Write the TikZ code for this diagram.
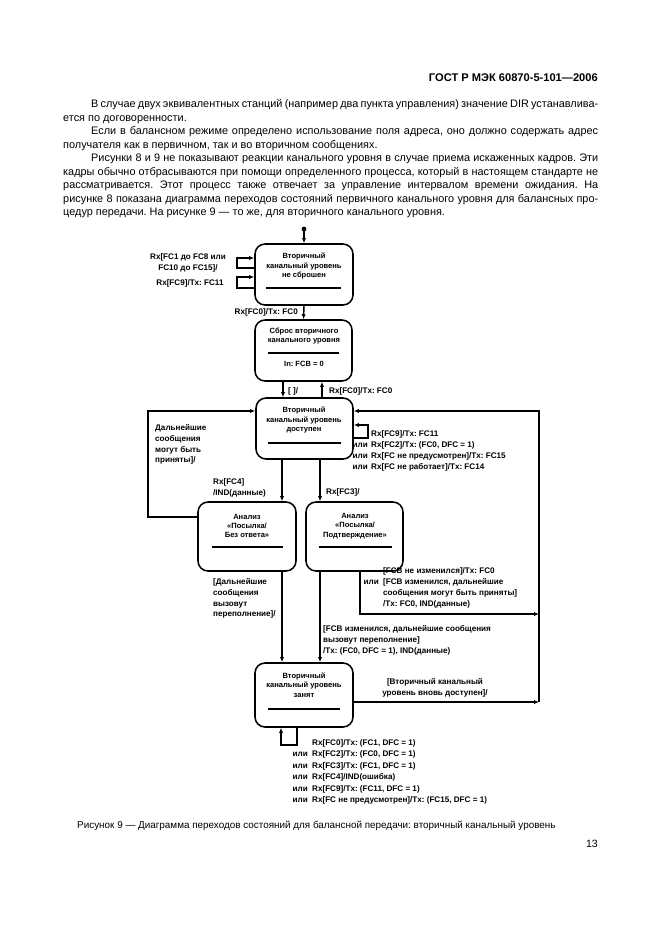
\documentclass[tikz,border=0pt]{standalone}
\usepackage{fontspec}
\setmainfont{Liberation Sans}
\usetikzlibrary{arrows.meta,fit}
\newcommand\jl[2]{\makebox[#1][s]{#2}}
\frenchspacing
\begin{document}
\begin{tikzpicture}[x=0.9pt,y=-0.9pt,
  state/.style={draw,line width=1.4pt,rounded corners=9pt,inner sep=0pt},
  arr/.style={line width=1.3pt,-{Latex[length=4.5pt,width=3.8pt]}},
  ln/.style={line width=1.3pt},
  btxt/.style={font=\fontsize{6.8}{8.4}\selectfont\bfseries,align=center,inner sep=0pt},
  lbl/.style={font=\fontsize{7.3}{9.8}\selectfont\bfseries,inner sep=0pt},
  body/.style={font=\fontsize{9.8}{12}\selectfont,inner sep=0pt,anchor=base west},
]
\useasboundingbox[fill=white] (0,0) rectangle (661,936);

% header and text
\node[font=\fontsize{10}{12}\selectfont\bfseries,anchor=base east,inner sep=0pt] (hdr) at (598,81) {ГОСТ Р МЭК 60870-5-101—2006};
\node[body] (p1) at (91,107.5) {\jl{456.3pt}{В случае двух эквивалентных станций (например два пункта управления) значение DIR устанавлива-}};
\node[body] (p2) at (63,121) {ется по договоренности.};
\node[body] (p3) at (91,134.5) {\jl{456.3pt}{Если в балансном режиме определено использование поля адреса, оно должно содержать адрес}};
\node[body] (p4) at (63,148) {получателя как в первичном, так и во вторичном сообщениях.};
\node[body] (p5) at (91,161.5) {\jl{456.3pt}{Рисунки 8 и 9 не показывают реакции канального уровня в случае приема искаженных кадров. Эти}};
\node[body] (p6) at (63,175) {\jl{481.5pt}{кадры обычно отбрасываются при помощи определенного процесса, который в настоящем стандарте не}};
\node[body] (p7) at (63,188.5) {\jl{481.5pt}{рассматривается. Этот процесс также отвечает за управление интервалом времени ожидания. На}};
\node[body] (p8) at (63,202) {\jl{481.5pt}{рисунке 8 показана диаграмма переходов состояний первичного канального уровня для балансных про-}};
\node[body] (p9) at (63,215.5) {цедур передачи. На рисунке 9 — то же, для вторичного канального уровня.};

% states
\node[state,fit={(255,244)(353,305)}] (b1) {};
\node[btxt] (t1) at (304,266) {Вторичный\\канальный уровень\\не сброшен};
\draw[ln] (266,288) -- (341,288);

\node[state,fit={(255,320)(352,381)}] (b2) {};
\node[btxt] (t2) at (304,336) {Сброс вторичного\\канального уровня};
\draw[ln] (268,353) -- (339,353);
\node[btxt] (t2b) at (304,364) {In: FCB = 0};

\node[state,fit={(256,398)(353,459)}] (b3) {};
\node[btxt] (t3) at (304,420) {Вторичный\\канальный уровень\\доступен};
\draw[ln] (268,443) -- (341,443);

\node[state,fit={(198,502)(296,571)}] (b4) {};
\node[btxt] (t4) at (247,526) {Анализ\\«Посылка/\\Без ответа»};
\draw[ln] (212,547) -- (283,547);

\node[state,fit={(306,502)(403,571)}] (b5) {};
\node[btxt] (t5) at (355,526) {Анализ\\«Посылка/\\Подтверждение»};
\draw[ln] (319,547) -- (392,547);

\node[state,fit={(255,663)(353,727)}] (b6) {};
\node[btxt] (t6) at (304,685) {Вторичный\\канальный уровень\\занят};
\draw[ln] (268,709) -- (340,709);

% helper coordinates
\coordinate (st) at (304,229);
\coordinate (xa) at (283,0);
\coordinate (xb) at (322,0);
\coordinate (xc) at (282,0);
\coordinate (xd) at (320,0);
\coordinate (xg) at (360,0);
\coordinate (xe) at (297,0);
\coordinate (xf) at (281,0);
\coordinate (jb) at (539,702);
\coordinate (jm) at (539,614);

% connectors
\fill (st) circle (2.2pt);
\draw[arr] (st) -- (b1.north);
\draw[arr] (b1.west |- 0,268) -- (237,268) |- (b1.west |- 0,258);
\draw[arr] (b1.west |- 0,288) -- (237,288) |- (b1.west |- 0,277);
\node[lbl,align=center] (l1) at (188,263) {Rx[FC1 до FC8 или\\FC10 до FC15]/};
\node[lbl] (l2) at (190,283) {Rx[FC9]/Tx: FC11};

\draw[arr] (b1.south) -- (b2.north);
\node[lbl,anchor=east] (l3) at (298,312) {Rx[FC0]/Tx: FC0};

\draw[arr] (b2.south -| xa) -- (b3.north -| xa);
\draw[arr] (b3.north -| xb) -- (b2.south -| xb);
\node[lbl,anchor=west] (l4) at (288,391) {[ ]/};
\node[lbl,anchor=west] (l5) at (329,391) {Rx[FC0]/Tx: FC0};

\draw[arr] (b4.west |- 0,517) -- (148,517) |- (b3.west |- 0,411);
\node[lbl,anchor=north west,align=left] (l6) at (155,424) {Дальнейшие\\сообщения\\могут быть\\приняты]/};

\draw[arr] (b6.east |- jb) -- (jb);
\draw[arr] (jb) |- (b3.east |- 0,411);
\draw[arr] (b5.south -| xg) |- (jm);

\draw[arr] (b3.east |- 0,438) -- (368,438) |- (b3.east |- 0,425);
\node[lbl,anchor=west] (r1) at (371,434) {Rx[FC9]/Tx: FC11};
\node[lbl,anchor=east] (r2a) at (368,445) {или};
\node[lbl,anchor=west] (r2) at (371,445) {Rx[FC2]/Tx: (FC0, DFC = 1)};
\node[lbl,anchor=east] (r3a) at (368,456) {или};
\node[lbl,anchor=west] (r3) at (371,456) {Rx[FC не предусмотрен]/Tx: FC15};
\node[lbl,anchor=east] (r4a) at (368,467) {или};
\node[lbl,anchor=west] (r4) at (371,467) {Rx[FC не работает]/Tx: FC14};

\draw[arr] (b3.south -| xc) -- (b4.north -| xc);
\draw[arr] (b3.south -| xd) -- (b5.north -| xd);
\node[lbl,anchor=west,align=left] (l7) at (213,487.5) {Rx[FC4]\\/IND(данные)};
\node[lbl,anchor=west] (l8) at (326,492) {Rx[FC3]/};

\draw[arr] (b4.south -| xc) -- (b6.north -| xc);
\draw[arr] (b5.south -| xd) -- (b6.north -| xd);
\node[lbl,anchor=north west,align=left] (l9) at (213,578) {[Дальнейшие\\сообщения\\вызовут\\переполнение]/};

\node[lbl,anchor=west] (s1) at (383,571) {[FCB не изменился]/Tx: FC0};
\node[lbl,anchor=east] (s2a) at (379,582) {или};
\node[lbl,anchor=west] (s2) at (383,582) {[FCB изменился, дальнейшие};
\node[lbl,anchor=west] (s3) at (383,593) {сообщения могут быть приняты]};
\node[lbl,anchor=west] (s4) at (383,604) {/Tx: FC0, IND(данные)};

\node[lbl,anchor=north west,align=left] (l10) at (323,625) {[FCB изменился, дальнейшие сообщения\\вызовут переполнение]\\/Tx: (FC0, DFC = 1), IND(данные)};

\node[lbl,align=center] (l11) at (435,688) {[Вторичный канальный\\уровень вновь доступен]/};

\draw[arr] (b6.south -| xe) -- (xe |- 0,745) -- (xf |- 0,745) -- (b6.south -| xf);
\node[lbl,anchor=west] (u1) at (312,743) {Rx[FC0]/Tx: (FC1, DFC = 1)};
\node[lbl,anchor=east] (u2a) at (308,754.5) {или};
\node[lbl,anchor=west] (u2) at (312,754.5) {Rx[FC2]/Tx: (FC0, DFC = 1)};
\node[lbl,anchor=east] (u3a) at (308,766) {или};
\node[lbl,anchor=west] (u3) at (312,766) {Rx[FC3]/Tx: (FC1, DFC = 1)};
\node[lbl,anchor=east] (u4a) at (308,777.5) {или};
\node[lbl,anchor=west] (u4) at (312,777.5) {Rx[FC4]/IND(ошибка)};
\node[lbl,anchor=east] (u5a) at (308,789) {или};
\node[lbl,anchor=west] (u5) at (312,789) {Rx[FC9]/Tx: (FC11, DFC = 1)};
\node[lbl,anchor=east] (u6a) at (308,800.5) {или};
\node[lbl,anchor=west] (u6) at (312,800.5) {Rx[FC не предусмотрен]/Tx: (FC15, DFC = 1)};

% caption
\node[font=\fontsize{8.9}{11}\selectfont,anchor=base west,inner sep=0pt] (cap) at (77,828.5) {Рисунок 9 — Диаграмма переходов состояний для балансной передачи: вторичный канальный уровень};
\node[font=\fontsize{9.5}{11}\selectfont,anchor=base east,inner sep=0pt] (pg) at (598,847) {13};
\end{tikzpicture}
\end{document}
